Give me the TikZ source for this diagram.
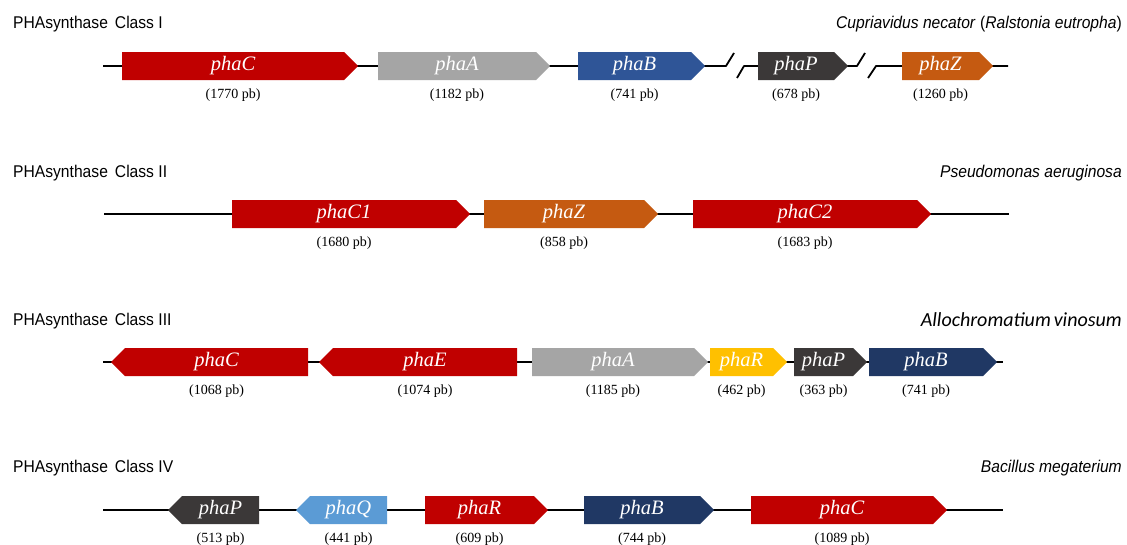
\documentclass[tikz,border=0pt]{standalone}
\usepackage{fontspec}
\setmainfont{Liberation Serif}
\newfontfamily\arialf{Liberation Sans}
\newfontfamily\calibrif{Carlito}
\definecolor{cred}{HTML}{C00000}
\definecolor{cgray}{HTML}{A5A5A5}
\definecolor{cblue}{HTML}{2F5597}
\definecolor{cdark}{HTML}{3B3838}
\definecolor{corange}{HTML}{C55A11}
\definecolor{cyellow}{HTML}{FFC000}
\definecolor{cnavy}{HTML}{203864}
\definecolor{clight}{HTML}{5B9BD5}
\tikzset{
  backbone/.style={line width=1.8pt, black, line join=round},
  genetext/.style={font=\fontsize{20.5}{24}\selectfont\itshape, text=white, inner sep=0pt},
  bplabel/.style={font=\fontsize{14}{16}\selectfont, inner sep=0pt},
  titletext/.style={font=\arialf\fontsize{17}{20}\selectfont, anchor=base west, inner sep=0pt},
  speciestext/.style={font=\arialf\itshape\fontsize{17}{20}\selectfont, anchor=base east, inner sep=0pt},
}
\newcommand{\geneR}[7]{%
  \fill[#5] (#2,#4-14) -- (#3-14,#4-14) -- (#3,#4) -- (#3-14,#4+14) -- (#2,#4+14) -- cycle;
  \node[genetext] (#1) at ({(#2+#3-14)/2},#4) {#6};
  \node[bplabel] (#1bp) at ({(#2+#3-14)/2},#4+29) {(#7 pb)};}
\newcommand{\geneL}[7]{%
  \fill[#5] (#2,#4) -- (#2+14,#4-14) -- (#3,#4-14) -- (#3,#4+14) -- (#2+14,#4+14) -- cycle;
  \node[genetext] (#1) at ({(#2+14+#3)/2},#4) {#6};
  \node[bplabel] (#1bp) at ({(#2+14+#3)/2},#4+29) {(#7 pb)};}
\begin{document}
\begin{tikzpicture}[x=1pt,y=-1pt]
\useasboundingbox[fill=white] (0,0) rectangle (1127,544);

% ---------- Row 1 ----------
\node[titletext] (t1) at (13,28) {\scalebox{0.92}[1]{PHAsynthase\hspace{0.45em}Class I}};
\node[speciestext] (s1) at (1122,28) {\scalebox{0.92}[1]{Cupriavidus necator \textup{(}Ralstonia eutropha\textup{)}}};
\coordinate (r1s) at (103,66);
\coordinate (r1b1) at (726,66);
\coordinate (r1b2) at (744,66);
\coordinate (r1b3) at (857,66);
\coordinate (r1b4) at (876,66);
\coordinate (r1e) at (1008,66);
\draw[backbone] (r1s) -- (r1b1) -- ++(8,-13);
\draw[backbone] ([shift={(-7,12)}]r1b2) -- (r1b2) -- (r1b3) -- ++(8,-13);
\draw[backbone] ([shift={(-8,12)}]r1b4) -- (r1b4) -- (r1e);
\geneR{r1C}{122}{358}{66}{cred}{phaC}{1770}
\geneR{r1A}{378}{550}{66}{cgray}{phaA}{1182}
\geneR{r1B}{578}{705}{66}{cblue}{phaB}{741}
\geneR{r1P}{758}{848}{66}{cdark}{phaP}{678}
\geneR{r1Z}{902}{993}{66}{corange}{phaZ}{1260}

% ---------- Row 2 ----------
\node[titletext] (t2) at (13,177) {\scalebox{0.92}[1]{PHAsynthase\hspace{0.45em}Class II}};
\node[speciestext] (s2) at (1122,177) {\scalebox{0.92}[1]{Pseudomonas aeruginosa}};
\coordinate (r2s) at (104,214);
\coordinate (r2e) at (1009,214);
\draw[backbone] (r2s) -- (r2e);
\geneR{r2C1}{232}{470}{214}{cred}{phaC1}{1680}
\geneR{r2Z}{484}{658}{214}{corange}{phaZ}{858}
\geneR{r2C2}{693}{931}{214}{cred}{phaC2}{1683}

% ---------- Row 3 ----------
\node[titletext] (t3) at (13,325) {\scalebox{0.92}[1]{PHAsynthase\hspace{0.45em}Class III}};
\node[anchor=base east, inner sep=0pt, font=\calibrif\itshape\fontsize{20}{23}\selectfont] (s3) at (1122,326) {Allochromatium\hspace{0.15em}vinosum};
\coordinate (r3s) at (103,362);
\coordinate (r3e) at (1003,362);
\draw[backbone] (r3s) -- (r3e);
\geneL{r3C}{111}{308}{362}{cred}{phaC}{1068}
\geneL{r3E}{319}{517}{362}{cred}{phaE}{1074}
\geneR{r3A}{532}{708}{362}{cgray}{phaA}{1185}
\geneR{r3R}{710}{787}{362}{cyellow}{phaR}{462}
\geneR{r3P}{794}{867}{362}{cdark}{phaP}{363}
\geneR{r3B}{869}{997}{362}{cnavy}{phaB}{741}

% ---------- Row 4 ----------
\node[titletext] (t4) at (13,472) {\scalebox{0.92}[1]{PHAsynthase\hspace{0.45em}Class IV}};
\node[speciestext] (s4) at (1122,472) {\scalebox{0.92}[1]{Bacillus megaterium}};
\coordinate (r4s) at (103,510);
\coordinate (r4e) at (1003,510);
\draw[backbone] (r4s) -- (r4e);
\geneL{r4P}{168}{259}{510}{cdark}{phaP}{513}
\geneL{r4Q}{296}{387}{510}{clight}{phaQ}{441}
\geneR{r4R}{425}{548}{510}{cred}{phaR}{609}
\geneR{r4B}{584}{714}{510}{cnavy}{phaB}{744}
\geneR{r4C}{751}{947}{510}{cred}{phaC}{1089}
\end{tikzpicture}
\end{document}
